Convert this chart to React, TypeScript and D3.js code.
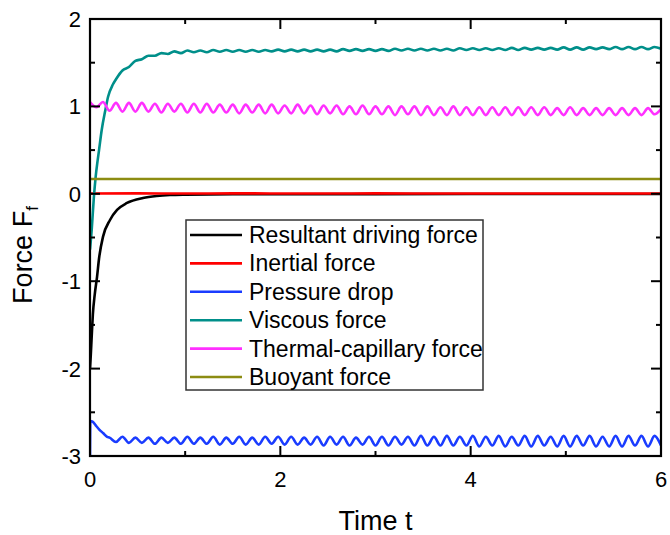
import React from "react";
import * as d3 from "d3";

// ---------- data ----------
const seriesNames = [
  "Resultant driving force",
  "Inertial force",
  "Pressure drop",
  "Viscous force",
  "Thermal-capillary force",
  "Buoyant force",
];
const seriesColors = ["#000000", "#ff0000", "#1a3cff", "#008f8a", "#ff30ff", "#8c8c12"];

const xTickLabels = [0, 2, 4, 6];
const xMinorTicks = [1, 3, 5];
const yTickLabels = [-3, -2, -1, 0, 1, 2];
const yMinorTicks = [-2.5, -1.5, -0.5, 0.5, 1.5];

// shared time grid (half oscillation period)
const tGrid = [
  0, 0.068, 0.136, 0.205, 0.273, 0.341, 0.409, 0.477, 0.545, 0.614, 0.682, 0.75, 0.818, 0.886, 0.955,
  1.023, 1.091, 1.159, 1.227, 1.295, 1.364, 1.432, 1.5, 1.568, 1.636, 1.705, 1.773, 1.841, 1.909, 1.977,
  2.045, 2.114, 2.182, 2.25, 2.318, 2.386, 2.455, 2.523, 2.591, 2.659, 2.727, 2.795, 2.864, 2.932, 3.0,
  3.068, 3.136, 3.205, 3.273, 3.341, 3.409, 3.477, 3.545, 3.614, 3.682, 3.75, 3.818, 3.886, 3.955,
  4.023, 4.091, 4.159, 4.227, 4.295, 4.364, 4.432, 4.5, 4.568, 4.636, 4.705, 4.773, 4.841, 4.909, 4.977,
  5.045, 5.114, 5.182, 5.25, 5.318, 5.386, 5.455, 5.523, 5.591, 5.659, 5.727, 5.795, 5.864, 5.932, 6.0,
];

// Resultant driving force
const blackT = [0, 0.008, 0.018, 0.03, 0.05, 0.074, 0.095, 0.137, 0.21, 0.284, 0.389, 0.557, 0.7, 0.84, 1.0, 1.5, 2, 3, 4, 5, 6];
const blackV = [-2.0, -1.85, -1.63, -1.38, -1.15, -0.95, -0.74, -0.49, -0.3, -0.185, -0.105, -0.048, -0.025, -0.014, -0.01, -0.006, -0.005, -0.004, -0.003, -0.003, -0.002];

// Inertial force
const redT = [0, 0.5, 1, 1.5, 2, 2.5, 3, 3.5, 4, 4.5, 5, 5.5, 6];
const redV = [0.004, 0.005, 0.003, 0.005, 0.004, 0.003, 0.005, 0.004, 0.003, 0.004, 0.003, 0.004, 0.003];

// Pressure drop: head then tail on tGrid from index 3
const blueHeadT = [0, 0.003, 0.03, 0.06, 0.1, 0.14, 0.18];
const blueHeadV = [-3.0, -2.6, -2.61, -2.65, -2.7, -2.74, -2.78];
const blueTailV = [
  -2.79, -2.84, -2.78, -2.85, -2.79, -2.85, -2.79, -2.86, -2.79, -2.85,
  -2.79, -2.86, -2.78, -2.86, -2.79, -2.86, -2.78, -2.87, -2.79, -2.86,
  -2.78, -2.87, -2.79, -2.87, -2.78, -2.86, -2.78, -2.87, -2.78, -2.87,
  -2.79, -2.87, -2.78, -2.88, -2.78, -2.87, -2.78, -2.88, -2.79, -2.87,
  -2.78, -2.88, -2.78, -2.88, -2.78, -2.87, -2.78, -2.88, -2.77, -2.88,
  -2.78, -2.88, -2.77, -2.88, -2.78, -2.88, -2.77, -2.89, -2.78, -2.88,
  -2.77, -2.89, -2.78, -2.88, -2.77, -2.89, -2.77, -2.88, -2.78, -2.89,
  -2.77, -2.89, -2.77, -2.88, -2.77, -2.89, -2.78, -2.89, -2.77, -2.89,
  -2.77, -2.88, -2.77, -2.89, -2.77, -2.88,
];

// Viscous force: head then tail on tGrid from index 4
const tealHeadT = [0, 0.018, 0.04, 0.06, 0.08, 0.095, 0.123, 0.16, 0.19, 0.24];
const tealHeadV = [-0.64, -0.41, -0.05, 0.2, 0.38, 0.5, 0.73, 0.95, 1.11, 1.25];
const tealTailV = [
  1.31, 1.41, 1.45, 1.52, 1.54, 1.58, 1.58, 1.61, 1.6, 1.63, 1.61,
  1.64, 1.62, 1.64, 1.62, 1.645, 1.625,
  1.645, 1.625, 1.645, 1.625, 1.645, 1.625, 1.645, 1.63, 1.65, 1.63,
  1.65, 1.63, 1.65, 1.63, 1.65, 1.63, 1.65, 1.63, 1.655, 1.635,
  1.655, 1.635, 1.655, 1.635, 1.655, 1.635, 1.66, 1.64, 1.66, 1.64,
  1.66, 1.64, 1.66, 1.64, 1.66, 1.64, 1.665, 1.645, 1.665, 1.645,
  1.665, 1.645, 1.665, 1.645, 1.67, 1.645, 1.67, 1.65, 1.67, 1.65,
  1.67, 1.65, 1.675, 1.65, 1.675, 1.65, 1.675, 1.655, 1.675, 1.655,
  1.68, 1.655, 1.68, 1.655, 1.68, 1.655, 1.68, 1.66,
];

// Thermal-capillary force on tGrid
const pinkV = [
  1.05, 0.99, 1.05, 0.95, 1.04, 0.94, 1.04, 0.94, 1.04, 0.94,
  1.03, 0.93, 1.03, 0.94, 1.03, 0.93, 1.03, 0.93, 1.03, 0.93,
  1.02, 0.93, 1.02, 0.92, 1.02, 0.93, 1.02, 0.92, 1.02, 0.92,
  1.01, 0.92, 1.02, 0.92, 1.01, 0.91, 1.01, 0.92, 1.01, 0.91,
  1.0, 0.91, 1.01, 0.91, 1.0, 0.91, 1.0, 0.9, 1.0, 0.91,
  1.0, 0.9, 1.0, 0.9, 0.99, 0.9, 1.0, 0.9, 0.99, 0.9,
  0.99, 0.9, 0.99, 0.9, 0.99, 0.9, 0.99, 0.9, 0.99, 0.9,
  0.99, 0.9, 0.98, 0.9, 0.99, 0.9, 0.98, 0.9, 0.98, 0.9,
  0.98, 0.9, 0.98, 0.9, 0.98, 0.9, 0.98, 0.91, 0.97,
];

// Buoyant force
const oliveT = [0, 6];
const oliveV = [0.17, 0.17];

// ---------- layout ----------
const W = 670;
const H = 535;
const PL = 90, PR = 661, PT = 19, PB = 456;
const FONT = "'Liberation Sans', Arial, Helvetica, sans-serif";

type Pt = [number, number];
const zip = (t: number[], v: number[]): Pt[] => v.map((y, i) => [t[i], y]);

export default function App() {
  const x = d3.scaleLinear().domain([0, 6]).range([PL, PR]);
  const y = d3.scaleLinear().domain([-3, 2]).range([PB, PT]);

  const series: Pt[][] = [
    zip(blackT, blackV),
    zip(redT, redV),
    [...zip(blueHeadT, blueHeadV), ...zip(tGrid.slice(3), blueTailV)],
    [...zip(tealHeadT, tealHeadV), ...zip(tGrid.slice(4), tealTailV)],
    zip(tGrid, pinkV),
    zip(oliveT, oliveV),
  ];

  const line = d3
    .line<Pt>()
    .x((d) => x(d[0]))
    .y((d) => y(d[1]))
    .curve(d3.curveMonotoneX);

  const legX = 186, legY = 220, legW = 297, legH = 170;
  const rowY0 = 235, rowDy = 28.4;

  return (
    <svg
      width={W}
      height={H}
      style={{ position: "absolute", left: 0, top: 0, background: "#fff" }}
      fontFamily={FONT}
    >
      <defs>
        <clipPath id="plotclip">
          <rect x={PL} y={PT} width={PR - PL} height={PB - PT} />
        </clipPath>
      </defs>
      <rect x={0} y={0} width={W} height={H} fill="#fff" />

      <g clipPath="url(#plotclip)">
        {series.map((s, i) => (
          <path
            key={i}
            d={line(s) || ""}
            fill="none"
            stroke={seriesColors[i]}
            strokeWidth={2.6}
            strokeLinejoin="round"
          />
        ))}
      </g>

      {/* frame */}
      <rect x={PL} y={PT} width={PR - PL} height={PB - PT} fill="none" stroke="#000" strokeWidth={2.2} />

      {/* x ticks */}
      {xTickLabels.map((v) => (
        <g key={"xt" + v}>
          <line x1={x(v)} x2={x(v)} y1={PB} y2={PB - 10} stroke="#000" strokeWidth={2} />
          <line x1={x(v)} x2={x(v)} y1={PT} y2={PT + 10} stroke="#000" strokeWidth={2} />
          <text x={x(v)} y={487} textAnchor="middle" fontSize={22} fill="#000">
            {v}
          </text>
        </g>
      ))}
      {xMinorTicks.map((v) => (
        <g key={"xm" + v}>
          <line x1={x(v)} x2={x(v)} y1={PB} y2={PB - 5} stroke="#000" strokeWidth={2} />
          <line x1={x(v)} x2={x(v)} y1={PT} y2={PT + 5} stroke="#000" strokeWidth={2} />
        </g>
      ))}

      {/* y ticks */}
      {yTickLabels.map((v) => (
        <g key={"yt" + v}>
          <line x1={PL} x2={PL + 10} y1={y(v)} y2={y(v)} stroke="#000" strokeWidth={2} />
          <line x1={PR} x2={PR - 10} y1={y(v)} y2={y(v)} stroke="#000" strokeWidth={2} />
          <text x={81} y={y(v) + 8} textAnchor="end" fontSize={22} fill="#000">
            {v < 0 ? "-" + Math.abs(v) : String(v)}
          </text>
        </g>
      ))}
      {yMinorTicks.map((v) => (
        <g key={"ym" + v}>
          <line x1={PL} x2={PL + 5} y1={y(v)} y2={y(v)} stroke="#000" strokeWidth={2} />
          <line x1={PR} x2={PR - 5} y1={y(v)} y2={y(v)} stroke="#000" strokeWidth={2} />
        </g>
      ))}

      {/* axis titles */}
      <text x={(PL + PR) / 2} y={530} textAnchor="middle" fontSize={27} fill="#000">
        Time t
      </text>
      <text
        transform={`translate(32, 255) rotate(-90)`}
        textAnchor="middle"
        fontSize={27}
        fill="#000"
      >
        Force F
        <tspan fontSize={17} dy={6}>
          f
        </tspan>
      </text>

      {/* legend */}
      <rect x={legX} y={legY} width={legW} height={legH} fill="#fff" stroke="#333" strokeWidth={1.5} />
      {seriesNames.map((name, i) => {
        const ry = rowY0 + i * rowDy;
        return (
          <g key={name}>
            <line x1={190} x2={242} y1={ry} y2={ry} stroke={seriesColors[i]} strokeWidth={2.6} />
            <text x={249} y={ry + 8} fontSize={23} fill="#000">
              {name}
            </text>
          </g>
        );
      })}
    </svg>
  );
}
